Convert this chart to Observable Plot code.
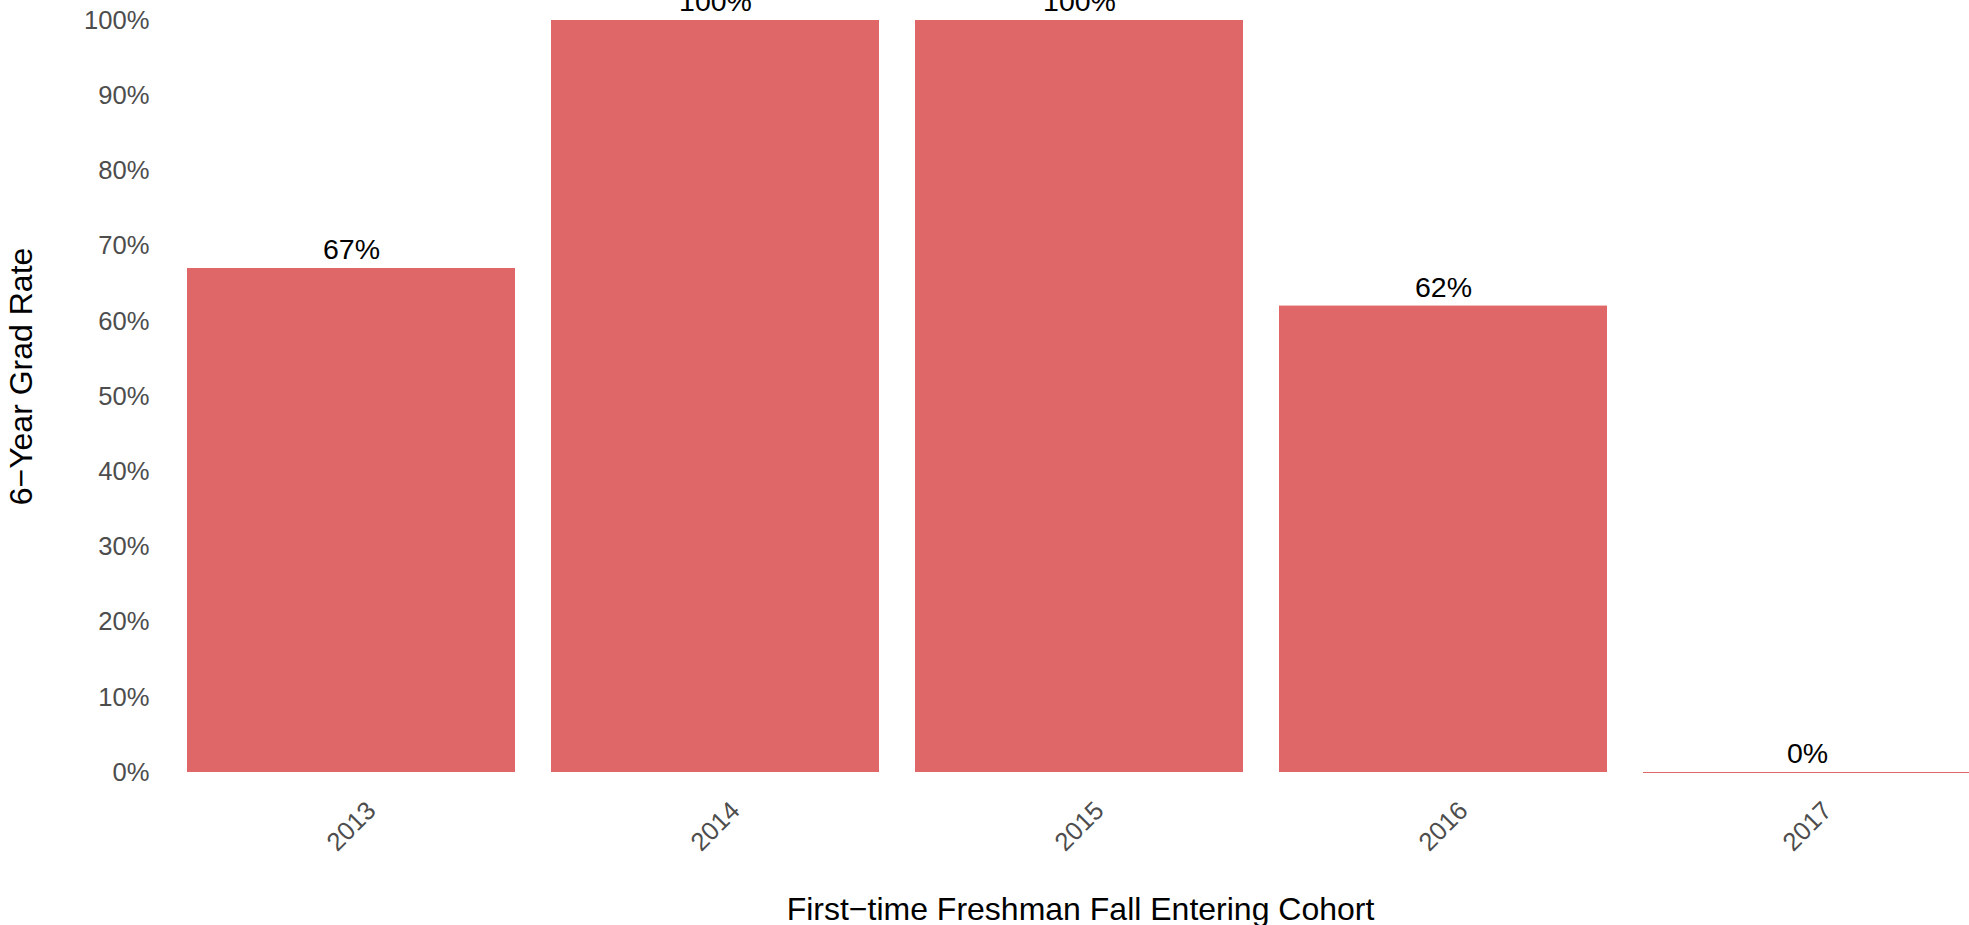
<!DOCTYPE html>
<html>
<head>
<meta charset="utf-8">
<script src="https://cdn.jsdelivr.net/npm/d3@7"></script>
<script src="https://cdn.jsdelivr.net/npm/@observablehq/plot@0.6"></script>
<style>
  html, body { margin: 0; padding: 0; background: #fff; overflow: hidden; }
  #chart svg { display: block; }
</style>
</head>
<body>
<div id="chart"></div>
<script>
// Data
const cohorts = ["2013", "2014", "2015", "2016", "2017"];
const gradRates = [0.67, 1.00, 1.00, 0.62, 0.00];
const yTicks = [0, 0.1, 0.2, 0.3, 0.4, 0.5, 0.6, 0.7, 0.8, 0.9, 1.0];
const xTitle = "First\u2212time Freshman Fall Entering Cohort";
const yTitle = "6\u2212Year Grad Rate";

const data = cohorts.map((c, i) => ({cohort: c, rate: gradRates[i]}));
const pct = d3.format(".0%");
const barColor = "#E06767";
const font = "'Liberation Sans', Arial, Helvetica, sans-serif";

const chart = Plot.plot({
  width: 1969,
  height: 925,
  marginTop: 20,
  marginBottom: 153,
  marginLeft: 151,
  marginRight: 0,
  style: {fontFamily: font, fontSize: "25.6px", background: "#fff", overflow: "hidden"},
  x: {type: "band", domain: cohorts, range: [149.5, 2008.5], padding: 0.1, axis: null},
  y: {domain: [0, 1], axis: null},
  marks: [
    Plot.barY(data, {x: "cohort", y: "rate", fill: barColor}),
    Plot.tickY(data, {x: "cohort", y: "rate", stroke: barColor, strokeWidth: 1.2}),
    Plot.text(data, {
      x: "cohort", y: "rate", text: d => pct(d.rate),
      dy: -18.5, lineAnchor: "middle", fontSize: 28.5, fill: "#000"
    }),
    Plot.axisY({
      ticks: yTicks, tickFormat: pct, tickSize: 0, tickPadding: 2,
      fontSize: 25.6, color: "#4D4D4D", label: null
    }),
    Plot.text(cohorts, {
      x: d => d, text: d => d, frameAnchor: "bottom", dy: 54,
      rotate: -45, textAnchor: "middle", lineAnchor: "middle",
      fontSize: 25.6, fill: "#4D4D4D"
    }),
    Plot.text([xTitle], {
      text: d => d, frameAnchor: "bottom-left", dx: 1080 - 151, dy: 137,
      textAnchor: "middle", lineAnchor: "middle", fontSize: 32, fill: "#000"
    }),
    Plot.text([yTitle], {
      text: d => d, frameAnchor: "left", dx: 21.5 - 151, dy: -20,
      rotate: -90, textAnchor: "middle", lineAnchor: "middle", fontSize: 32, fill: "#000"
    })
  ]
});
document.getElementById("chart").appendChild(chart);
</script>
</body>
</html>
